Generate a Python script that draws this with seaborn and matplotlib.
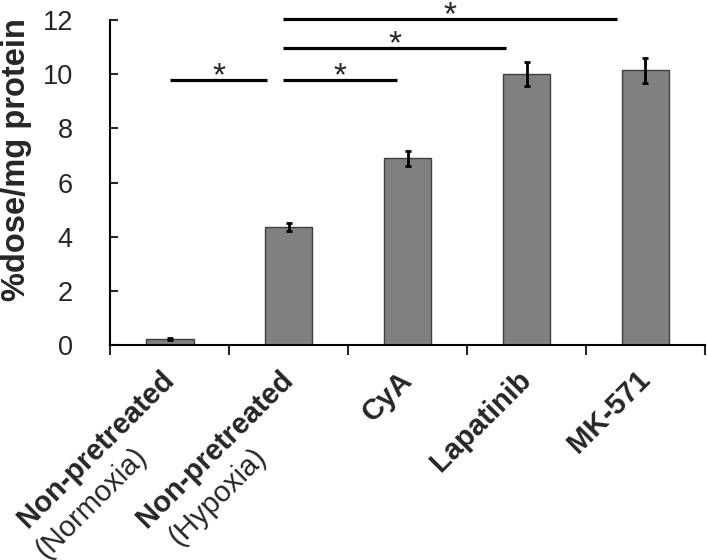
import numpy as np
import matplotlib
matplotlib.use("Agg")
import matplotlib.pyplot as plt
import matplotlib.transforms as mtransforms
import seaborn as sns

# data
groups = ["Non-pretreated", "Non-pretreated", "CyA", "Lapatinib", "MK-571"]
conditions = ["(Normoxia)", "(Hypoxia)", "", "", ""]
means = [0.22, 4.35, 6.9, 10.0, 10.15]
errors = [0.03, 0.15, 0.27, 0.45, 0.47]

# significance brackets: (start, end, height)
sig_start = [0.0, 0.95, 0.95, 0.95]
sig_end = [0.82, 1.91, 2.83, 3.76]
sig_height = [9.79, 9.79, 10.97, 12.04]

sns.set_style("ticks")
plt.rcParams["font.family"] = ["Liberation Sans", "DejaVu Sans"]

fig = plt.figure(figsize=(7.07, 5.6), dpi=100)
ax = fig.add_axes([0.156, 0.384, 0.841, 0.580])

x = np.arange(len(means))
sns.barplot(x=x, y=means, color="#808080", saturation=1, width=0.4,
            edgecolor="#404040", linewidth=1, ax=ax, native_scale=True)
ax.errorbar(x, means, yerr=errors, fmt="none", ecolor="black",
            elinewidth=2, capsize=2.2, capthick=2)

for x0, x1, h in zip(sig_start, sig_end, sig_height):
    ax.plot([x0, x1], [h, h], color="black", lw=2.3, clip_on=False,
            solid_capstyle="butt")
    ax.annotate("*", xy=((x0 + x1) / 2, h), xytext=(0, -3.6),
                textcoords="offset points", ha="center", va="baseline",
                fontsize=24, annotation_clip=False)

ax.set_xlim(-0.5, 4.5)
ax.set_ylim(0, 12)
ax.set_yticks(range(0, 13, 2))
ax.tick_params(axis="y", direction="in", length=6, width=1.5,
               labelsize=19.5, pad=27)

# boundary ticks, labels at bar centres
label_pad = 22
ax.set_xticks(np.arange(-0.5, 5, 1))
ax.set_xticklabels([])
ax.tick_params(axis="x", which="major", direction="out", length=7, width=1.5)
ax.set_xticks(x, minor=True)
ax.set_xticklabels(groups, minor=True, rotation=45, ha="right", va="center",
                   rotation_mode="anchor", fontsize=21, fontweight="bold")
ax.tick_params(axis="x", which="minor", length=0, pad=label_pad)

# second, non-bold line of the first two labels
dy = label_pad / 72 + 0.77
for i, cond in enumerate(conditions):
    if cond:
        off = mtransforms.ScaledTranslation(-0.27, -dy, fig.dpi_scale_trans)
        ax.text(i, 0, cond, transform=ax.get_xaxis_transform() + off,
                rotation=45, ha="right", va="center", rotation_mode="anchor",
                fontsize=21)

ax.text(-0.158, 0.572, "%dose/mg protein", transform=ax.transAxes,
        rotation=90, ha="center", va="center", fontsize=23.5, fontweight="bold")

sns.despine(ax=ax)
for s in ["left", "bottom"]:
    ax.spines[s].set_linewidth(1.5)
    ax.spines[s].set_color("black")

fig.savefig("out.png", dpi=100)
